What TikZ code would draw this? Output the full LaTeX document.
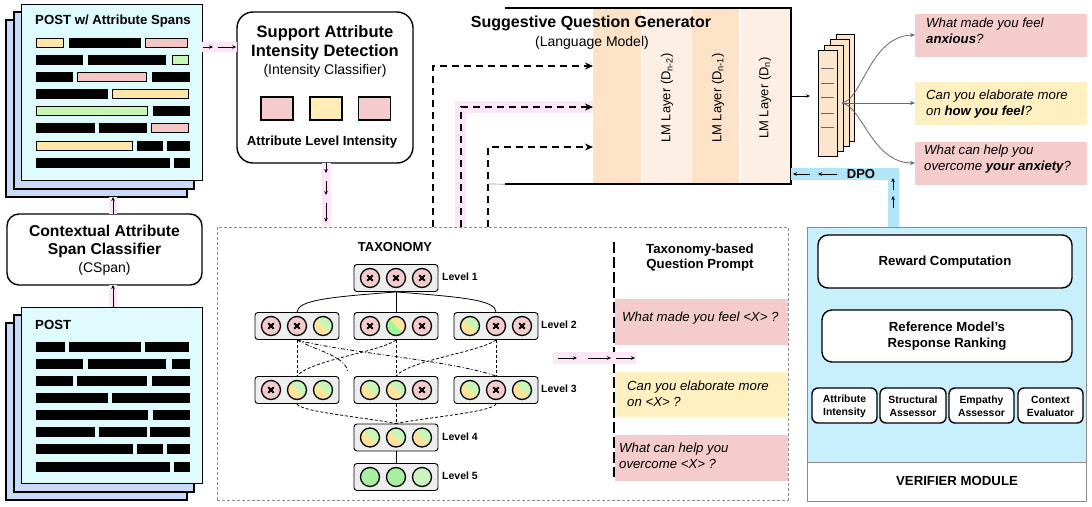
\documentclass[tikz,border=0pt]{standalone}
\usepackage{fontspec}
\setmainfont{Liberation Sans}
\usetikzlibrary{arrows.meta}

\definecolor{pagecyan}{HTML}{E0FBFE}
\definecolor{pageblue}{HTML}{C9DAF8}
\definecolor{spyellow}{HTML}{FFE6A6}
\definecolor{sppink}{HTML}{F4C7C7}
\definecolor{spgreen}{HTML}{C7F7B5}
\definecolor{hlpink}{HTML}{FCE6F7}
\definecolor{lmdark}{HTML}{FCE2C6}
\definecolor{lmlight}{HTML}{FDEFE3}
\definecolor{peach}{HTML}{FCE5CD}
\definecolor{qpink}{HTML}{F4CCCC}
\definecolor{qyellow}{HTML}{FFF0C2}
\definecolor{verblue}{HTML}{C8EFFC}
\definecolor{dpoblue}{HTML}{B0E6F8}
\definecolor{lvgrey}{HTML}{EEEEEE}
\definecolor{cpink}{HTML}{F4CCCC}
\definecolor{cyellow}{HTML}{FFE39A}
\definecolor{cgreen}{HTML}{C6F7B9}
\definecolor{cgreenA}{HTML}{A6F0A0}
\definecolor{cgreenB}{HTML}{C9F5BE}

\newcommand\spanbar[4]{\draw[line width=0.9pt, fill=#4] (#1,#3-4.5) rectangle (#2,#3+4.5);}
\newcommand\taxc[3]{%
  \ifcase#3
    \draw[circ, fill=cpink] (#1,#2) circle[radius=9.5];
    \draw[line width=2.1pt, line cap=round] (#1-2.3,#2-2.3) -- (#1+2.3,#2+2.3) (#1-2.3,#2+2.3) -- (#1+2.3,#2-2.3);
  \or
    \begin{scope}\clip (#1,#2) circle[radius=9.5];
      \fill[cgreen] (#1-10,#2-10) rectangle (#1+10,#2+10);
      \fill[cyellow] (#1-10,#2-10) -- (#1+10,#2+10) -- (#1-10,#2+10) -- cycle;
    \end{scope}
    \draw[circ] (#1,#2) circle[radius=9.5];
  \or
    \begin{scope}\clip (#1,#2) circle[radius=9.5];
      \fill[cyellow] (#1-10,#2-10) rectangle (#1+10,#2+10);
      \fill[cgreen!80!green] (#1-10,#2-10) -- (#1+10,#2+10) -- (#1-10,#2+10) -- cycle;
    \end{scope}
    \draw[circ] (#1,#2) circle[radius=9.5];
  \or
    \draw[circ, fill=cgreenA] (#1,#2) circle[radius=9.5];
  \or
    \draw[circ, fill=cgreenB] (#1,#2) circle[radius=9.5];
  \fi}

\tikzset{
  every node/.style={inner sep=0pt},
  pagest/.style={draw=black, line width=1.1pt},
  rbox/.style={draw=black, line width=1.4pt, fill=white},
  circ/.style={draw=black, line width=1.3pt},
  lvbox/.style={draw=black, line width=0.9pt, fill=lvgrey, rounded corners=3pt, minimum width=84pt, minimum height=27pt},
  lvlab/.style={anchor=west, font=\fontsize{10.5}{12}\selectfont\bfseries},
  sarr/.style={line width=0.7pt, -{Stealth[length=4pt,width=3.5pt]}},
  darr/.style={line width=1.8pt, dash pattern=on 7pt off 5pt, -{Stealth[length=8pt,width=7pt]}},
  garr/.style={draw=black!60, line width=0.8pt, -{Stealth[length=5pt,width=4pt]}},
  tline/.style={line width=0.8pt},
  tdash/.style={line width=0.8pt, dash pattern=on 3pt off 2pt},
  tdashdot/.style={line width=0.8pt, dash pattern=on 4pt off 2pt on 1pt off 2pt},
  bigb/.style={font=\fontsize{16.5}{19}\selectfont\bfseries, align=center},
  reg/.style={font=\fontsize{14}{16}\selectfont},
  midb/.style={font=\fontsize{13.2}{16}\selectfont\bfseries, align=center},
  smb/.style={font=\fontsize{10.4}{13}\selectfont\bfseries, align=center},
  qtxt/.style={anchor=west, align=left, font=\fontsize{13.2}{16}\selectfont\itshape},
  lmtxt/.style={rotate=90, font=\fontsize{13}{15}\selectfont},
}

\begin{document}
\begin{tikzpicture}[x=1pt,y=-1pt]
\useasboundingbox (0,0) rectangle (1092,506);

% ---------------- top-left stack (POST w/ attribute spans)
\draw[pagest, fill=pageblue] (6,20) rectangle (187,197);
\draw[pagest, fill=pageblue] (14,12) rectangle (194,189);
\node[pagest, fill=pagecyan, minimum width=181pt, minimum height=176pt, anchor=north west] (spanpost) at (21,4) {};
\node[anchor=west, font=\fontsize{13.2}{15}\selectfont\bfseries] (spantitle) at (35,21) {POST w/ Attribute Spans};
\spanbar{36}{63}{43}{spyellow}\spanbar{69}{140}{43}{black}\spanbar{145}{187}{43}{sppink}
\spanbar{36}{82}{60}{black}\spanbar{88}{165}{60}{black}\spanbar{172}{188}{60}{spgreen}
\spanbar{36}{72}{77}{black}\spanbar{77}{146}{77}{sppink}\spanbar{152}{189}{77}{black}
\spanbar{36}{107}{94}{black}\spanbar{112}{188}{94}{spyellow}
\spanbar{36}{147}{111}{spgreen}\spanbar{153}{189}{111}{black}
\spanbar{36}{94}{128}{black}\spanbar{99}{146}{128}{black}\spanbar{151}{188}{128}{sppink}
\spanbar{36}{132}{146}{spyellow}\spanbar{137}{162}{146}{black}\spanbar{167}{189}{146}{black}
\spanbar{36}{169}{163}{black}\spanbar{174}{189}{163}{black}

% ---------------- bottom-left stack (POST)
\draw[pagest, fill=pageblue] (6,323) rectangle (187,500);
\draw[pagest, fill=pageblue] (14,315) rectangle (194,492);
\node[pagest, fill=pagecyan, minimum width=181pt, minimum height=176pt, anchor=north west] (post) at (21,307) {};
\node[anchor=west, font=\fontsize{13.2}{15}\selectfont\bfseries] (posttitle) at (35,325) {POST};
\spanbar{36}{64}{347}{black}\spanbar{69}{140}{347}{black}\spanbar{145}{188}{347}{black}
\spanbar{36}{82}{364}{black}\spanbar{88}{165}{364}{black}\spanbar{172}{189}{364}{black}
\spanbar{36}{72}{381}{black}\spanbar{77}{146}{381}{black}\spanbar{152}{189}{381}{black}
\spanbar{36}{107}{398}{black}\spanbar{112}{189}{398}{black}
\spanbar{36}{147}{415}{black}\spanbar{153}{189}{415}{black}
\spanbar{36}{94}{432}{black}\spanbar{99}{146}{432}{black}\spanbar{150}{189}{432}{black}
\spanbar{36}{132}{449}{black}\spanbar{137}{162}{449}{black}\spanbar{167}{189}{449}{black}
\spanbar{36}{169}{467}{black}\spanbar{174}{189}{467}{black}

% ---------------- CSpan
\node[rbox, rounded corners=12pt, minimum width=195pt, minimum height=71pt] (cspan) at (104.5,249.5) {};
\node[font=\fontsize{15.7}{18}\selectfont\bfseries, align=center] (cspantxt) at (104.5,241.5) {Contextual Attribute\\Span Classifier};
\node[reg] (cspansub) at (104.5,269) {(CSpan)};
\coordinate (stkbot) at (113,197);
\coordinate (cstop) at (113,214);
\coordinate (csbot) at (113,285);
\coordinate (posttop) at (113,307);
\fill[hlpink] (109,197) rectangle (117,214);
\fill[hlpink] (109,285) rectangle (117,307);
\draw[sarr] (cstop) -- (stkbot);
\draw[sarr] (posttop) -- (csbot);

% ---------------- Support attribute intensity detection
\node[rbox, rounded corners=16pt, minimum width=176pt, minimum height=151pt] (sad) at (325,87.5) {};
\node[bigb] (sadtxt) at (325,43) {Support Attribute\\Intensity Detection};
\node[reg] (sadsub) at (325,71) {(Intensity Classifier)};
\node[draw, line width=1.3pt, fill=qpink, minimum width=32pt, minimum height=23pt] (sq1) at (277,108.5) {};
\node[draw, line width=1.3pt, fill=qyellow!70!cyellow, minimum width=32pt, minimum height=23pt] (sq2) at (326,108.5) {};
\node[draw, line width=1.3pt, fill=qpink, minimum width=32pt, minimum height=23pt] (sq3) at (374.5,108.5) {};
\node[midb] (sadlab) at (322,142) {Attribute Level Intensity};

% arrow stack -> support box
\fill[hlpink] (202,42) rectangle (237,52);
\coordinate (a1s) at (203,47);
\coordinate (a1m) at (213,47);
\coordinate (a1n) at (218,47);
\draw[sarr] (a1s) -- (a1m);
\draw[sarr] (a1n) -- (sad.west |- a1n);

% arrow support box -> taxonomy
\fill[hlpink] (322,163) rectangle (331,226);
\coordinate (b1) at (326,163);
\coordinate (b2) at (326,173);
\coordinate (b3) at (326,181);
\coordinate (b4) at (326,195);
\coordinate (b5) at (326,203);
\coordinate (b6) at (326,222);
\draw[sarr] (b1) -- (b2);
\draw[sarr] (b3) -- (b4);
\draw[sarr] (b5) -- (b6);

% ---------------- Taxonomy dashed box
\node[draw=black!45, line width=0.8pt, dash pattern=on 3pt off 2pt, minimum width=571pt, minimum height=273pt, anchor=north west] (taxbox) at (217,227) {};
\node[font=\fontsize{13}{15}\selectfont\bfseries] (taxtitle) at (395,247) {TAXONOMY};

\node[lvbox] (l1) at (396,278) {};
\node[lvbox] (l2a) at (297,326) {};
\node[lvbox] (l2b) at (396,326) {};
\node[lvbox] (l2c) at (496,326) {};
\node[lvbox] (l3a) at (297,390) {};
\node[lvbox] (l3b) at (396,390) {};
\node[lvbox] (l3c) at (496,390) {};
\node[lvbox] (l4) at (396,437.5) {};
\node[lvbox] (l5) at (396,477) {};

\taxc{370}{278}{0}\taxc{396}{278}{0}\taxc{422}{278}{0}
\taxc{271}{326}{0}\taxc{297}{326}{0}\taxc{323}{326}{1}
\taxc{370}{326}{0}\taxc{396}{326}{2}\taxc{422}{326}{0}
\taxc{470}{326}{1}\taxc{496}{326}{0}\taxc{522}{326}{0}
\taxc{271}{390}{0}\taxc{297}{390}{1}\taxc{323}{390}{1}
\taxc{370}{390}{1}\taxc{396}{390}{1}\taxc{422}{390}{0}
\taxc{470}{390}{1}\taxc{496}{390}{0}\taxc{522}{390}{1}
\taxc{370}{437.5}{1}\taxc{396}{437.5}{1}\taxc{422}{437.5}{1}
\taxc{370}{477}{3}\taxc{396}{477}{3}\taxc{422}{477}{4}

\node[lvlab] (lv1) at (442,277) {Level 1};
\node[lvlab] (lv2) at (541,325) {Level 2};
\node[lvlab] (lv3) at (541,389) {Level 3};
\node[lvlab] (lv4) at (442,437) {Level 4};
\node[lvlab] (lv5) at (442,476) {Level 5};

\draw[tline] (l1.south) .. controls (330,297) and (298,300) .. (l2a.north);
\draw[tline] (l1.south) -- (l2b.north);
\draw[tline] (l1.south) .. controls (462,297) and (496,300) .. (l2c.north);

\draw[tdash] (l2a.south) -- (l3a.north);
\draw[tdash] (l2b.south) -- (l3b.north);
\draw[tdash] (l2c.south) -- (l3c.north);
\draw[tdashdot] (l2a.south) .. controls (340,352) and (450,360) .. (l3c.north);
\draw[tdash] (l2b.south) .. controls (380,352) and (310,360) .. (l3a.north);
\draw[tdash] (l2c.south) .. controls (480,352) and (410,360) .. (l3b.north);
\coordinate (stub) at (348,372);
\draw[tdashdot] (l2a.south) .. controls (320,352) and (345,356) .. (stub);

\draw[tdash] (l3a.south) .. controls (300,412) and (370,418) .. (l4.north);
\draw[tdash] (l3b.south) -- (l4.north);
\draw[tdash] (l3c.south) .. controls (493,412) and (422,418) .. (l4.north);
\draw[tline] (l4.south) -- (l5.north);

% ---------------- Taxonomy-based question prompt
\node[font=\fontsize{13.2}{15}\selectfont\bfseries, align=center] (tqp) at (700,257.5) {Taxonomy-based\\Question Prompt};
\node[fill=qpink, minimum width=173pt, minimum height=46pt, anchor=north west] (pb1) at (615,299) {};
\node[fill=qyellow, minimum width=173pt, minimum height=45pt, anchor=north west] (pb2) at (615,372) {};
\node[fill=qpink, minimum width=173pt, minimum height=46pt, anchor=north west] (pb3) at (615,435) {};
\node[qtxt] (pt1) at (622,318) {What made you feel <X> ?};
\node[qtxt] (pt2) at (627,393.5) {Can you elaborate more\\on <X> ?};
\node[qtxt] (pt3) at (619,455.5) {What can help you\\overcome <X> ?};
\coordinate (qlt) at (614,242);
\coordinate (qlb) at (614,477);
\draw[line width=1.6pt, dash pattern=on 11pt off 4pt] (qlt) -- (qlb);
\fill[hlpink] (553,352) rectangle (636,364);
\coordinate (c1) at (558,358);
\coordinate (c2) at (577,358);
\coordinate (c3) at (588,358);
\coordinate (c4) at (611,358);
\coordinate (c5) at (616,358);
\coordinate (c6) at (635,358);
\draw[sarr] (c1) -- (c2);
\draw[sarr] (c3) -- (c4);
\draw[sarr] (c5) -- (c6);

% ---------------- Suggestive question generator
\node[fill=lmdark, minimum width=48pt, minimum height=175pt] (lm0) at (617,96) {};
\node[fill=lmlight, minimum width=49pt, minimum height=175pt] (lm1) at (666.5,96) {};
\node[fill=lmdark, minimum width=47pt, minimum height=175pt] (lm2) at (715.5,96) {};
\node[fill=lmlight, minimum width=49pt, minimum height=175pt] (lm3) at (765.5,96) {};
\node[lmtxt] (lmt1) at (667,98) {LM Layer (D\textsubscript{n-2})};
\node[lmtxt] (lmt2) at (718,98) {LM Layer (D\textsubscript{n-1})};
\node[lmtxt] (lmt3) at (765,98) {LM Layer (D\textsubscript{n})};
\node[minimum width=286pt, minimum height=176pt] (gen) at (648,96) {};
\draw[line width=2pt] (gen.north west) -- (gen.north east) -- (gen.south east) -- (gen.south west);
\node[font=\fontsize{16}{19}\selectfont\bfseries] (gentitle) at (591,23) {Suggestive Question Generator};
\node[reg] (gensub) at (592,43) {(Language Model)};

% dashed arrows taxonomy -> generator
\fill[hlpink] (455,101) rectangle (466,227);
\fill[hlpink] (455,101) rectangle (593,113);
\coordinate (d1) at (433,227);
\coordinate (d2) at (461,227);
\coordinate (d3) at (488,227);
\coordinate (e1) at (593,66);
\coordinate (e2) at (593,107);
\coordinate (e3) at (593,147);
\draw[darr] (d1) |- (e1);
\draw[darr] (d2) |- (e2);
\draw[darr] (d3) |- (e3);
\coordinate (g1) at (488,184);
\draw[black!40, line width=0.7pt] (g1) -- (gen.south west);

% ---------------- output stack
\draw[line width=0.8pt, fill=peach] (836,34) rectangle (854,141);
\draw[line width=0.8pt, fill=peach] (830,39) rectangle (849,146);
\draw[line width=0.8pt, fill=peach] (824,45) rectangle (843,151);
\node[draw, line width=0.8pt, fill=peach, minimum width=19pt, minimum height=106pt, anchor=north west] (outpg) at (818,50) {};
\foreach \yy in {68,83,97,113,127} \draw[black!60, line width=0.7pt] (821,\yy) -- (834,\yy);
\coordinate (outin) at (810,96);
\draw[sarr] (gen.east) -- (outin);

% ---------------- output questions
\node[fill=qpink, minimum width=172pt, minimum height=43pt, anchor=north west] (q1) at (915,14) {};
\node[fill=qyellow, minimum width=172pt, minimum height=43pt, anchor=north west] (q2) at (915,82) {};
\node[fill=qpink, minimum width=172pt, minimum height=43pt, anchor=north west] (q3) at (915,142) {};
\node[qtxt] (qt1) at (926,31) {What made you feel\\\textbf{anxious}?};
\node[qtxt] (qt2) at (926,104) {Can you elaborate more\\on \textbf{how you feel}?};
\node[qtxt] (qt3) at (924,159) {What can help you\\overcome \textbf{your anxiety}?};
\coordinate (fan) at (842,103);
\draw[garr] (fan) .. controls (862,100) and (870,36) .. (q1.west |- 0,35);
\draw[garr] (fan) -- (q2.west |- fan);
\draw[garr] (fan) .. controls (862,106) and (872,163) .. (q3.west |- 0,163);

% ---------------- DPO
\fill[dpoblue] (791,168) rectangle (899,180);
\fill[dpoblue] (888,168) rectangle (899,227);
\coordinate (p1) at (810,174);
\coordinate (p2) at (793,174);
\coordinate (p3) at (837,174);
\coordinate (p4) at (818,174);
\draw[sarr] (p1) -- (p2);
\draw[sarr] (p3) -- (p4);
\node[font=\fontsize{13}{15}\selectfont\bfseries] (dpo) at (861,174) {DPO};
\coordinate (u1) at (893,190);
\coordinate (u2) at (893,178);
\coordinate (u3) at (893,208);
\coordinate (u4) at (893,196);
\draw[sarr] (u1) -- (u2);
\draw[sarr] (u3) -- (u4);

% ---------------- Verifier module
\fill[verblue] (807,227) rectangle (1086,462);
\node[draw=black!45, line width=0.8pt, minimum width=279pt, minimum height=274pt, anchor=north west] (ver) at (807,227) {};
\draw[black!45, line width=0.8pt] (ver.west |- 0,462) -- (ver.east |- 0,462);
\node[font=\fontsize{13.2}{15}\selectfont\bfseries] (vertitle) at (957,481) {VERIFIER MODULE};
\node[rbox, rounded corners=10pt, minimum width=254pt, minimum height=53pt] (rc) at (945,261.5) {};
\node[midb] (rctxt) at (945,262) {Reward Computation};
\node[rbox, rounded corners=10pt, minimum width=250pt, minimum height=52pt] (rm) at (947,336) {};
\node[midb] (rmtxt) at (947,336) {Reference Model’s\\Response Ranking};
\node[rbox, rounded corners=6pt, minimum width=65pt, minimum height=35pt] (va) at (844.5,405.5) {};
\node[rbox, rounded corners=6pt, minimum width=66pt, minimum height=35pt] (vb) at (913,405.5) {};
\node[rbox, rounded corners=6pt, minimum width=65pt, minimum height=35pt] (vc) at (981.5,405.5) {};
\node[rbox, rounded corners=6pt, minimum width=65pt, minimum height=35pt] (vd) at (1050.5,405.5) {};
\node[smb] (vat) at (844.5,406) {Attribute\\Intensity};
\node[smb] (vbt) at (913,406) {Structural\\Assessor};
\node[smb] (vct) at (981.5,406) {Empathy\\Assessor};
\node[smb] (vdt) at (1050.5,406) {Context\\Evaluator};
\end{tikzpicture}
\end{document}
